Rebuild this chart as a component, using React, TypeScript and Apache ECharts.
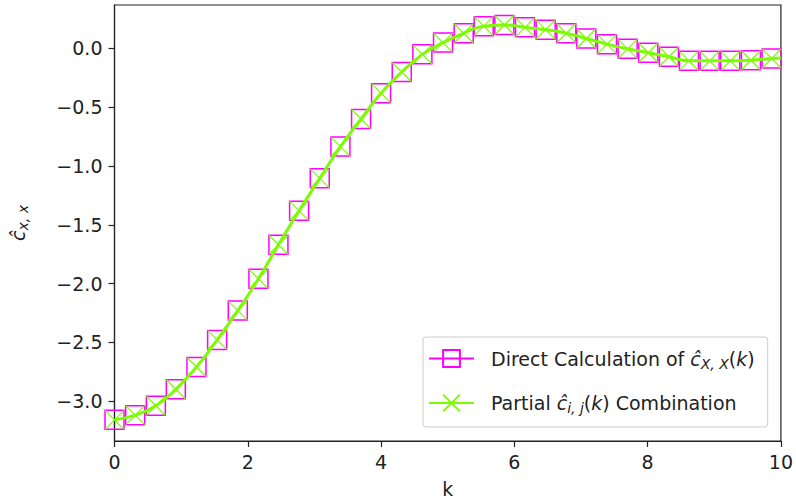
import React, { useEffect, useRef } from "react";
import * as echarts from "echarts";

// k positions of the markers (last entry is the curve's end at k = 10)
const kValues = [
  0, 0.31, 0.62, 0.92, 1.23, 1.54, 1.85, 2.16, 2.46, 2.77, 3.08, 3.39, 3.7, 4.0,
  4.31, 4.62, 4.93, 5.24, 5.54, 5.85, 6.16, 6.47, 6.78, 7.08, 7.39, 7.7, 8.01,
  8.32, 8.62, 8.93, 9.24, 9.55, 9.86, 10,
];
const directValues = [
  -3.16, -3.12, -3.04, -2.9, -2.71, -2.48, -2.23, -1.96, -1.67, -1.38, -1.105,
  -0.835, -0.6, -0.38, -0.2, -0.05, 0.05, 0.13, 0.19, 0.2, 0.18, 0.16, 0.13,
  0.085, 0.037, -0.003, -0.036, -0.07, -0.105, -0.105, -0.105, -0.1, -0.085,
  -0.08,
];
const partialValues = [
  -3.16, -3.12, -3.04, -2.9, -2.71, -2.48, -2.23, -1.96, -1.67, -1.38, -1.105,
  -0.835, -0.6, -0.38, -0.2, -0.05, 0.05, 0.13, 0.19, 0.2, 0.18, 0.16, 0.13,
  0.085, 0.037, -0.003, -0.036, -0.07, -0.105, -0.105, -0.105, -0.1, -0.085,
  -0.08,
];
const xTicks = [0, 2, 4, 6, 8, 10];
const yTicks = [-3.0, -2.5, -2.0, -1.5, -1.0, -0.5, 0.0];

const NAME_DIRECT = "Direct Calculation";
const NAME_PARTIAL = "Partial Combination";
const MAGENTA = "#ff00ff";
const GREEN = "#7cfc00";
const FONT = "DejaVu Sans";
const TXT = "#222222";
const FS = 19;

function buildData(vals: number[]) {
  return kValues.map((k, i) =>
    i === kValues.length - 1
      ? { value: [k, vals[i]], symbol: "none" }
      : { value: [k, vals[i]] }
  );
}

const richStyles = {
  n: { fontSize: FS, fontFamily: FONT, color: TXT, lineHeight: 24 },
  i: { fontSize: FS, fontFamily: FONT, fontStyle: "italic", color: TXT, lineHeight: 24 },
  s: {
    fontSize: 14,
    fontFamily: FONT,
    fontStyle: "italic",
    color: TXT,
    lineHeight: 13,
    verticalAlign: "bottom",
  },
};

export default function App() {
  const ref = useRef<HTMLDivElement>(null);
  useEffect(() => {
    if (!ref.current) return;
    const chart = echarts.init(ref.current, null, { renderer: "svg" });
    const fmt = (v: number) => v.toFixed(1).replace("-", "\u2212");
    chart.setOption({
      animation: false,
      backgroundColor: "#ffffff",
      grid: {
        left: 113,
        right: 12,
        top: 5,
        bottom: 63,
        show: true,
        borderColor: "#222",
        borderWidth: 1.2,
        backgroundColor: "transparent",
      },
      xAxis: {
        type: "value",
        min: 0,
        max: 10,
        interval: 2,
        name: "k",
        nameLocation: "middle",
        nameGap: 38,
        nameTextStyle: { fontSize: FS, fontFamily: FONT, color: TXT },
        axisLine: { show: true, onZero: false, lineStyle: { color: "#222", width: 1.2 } },
        axisTick: { show: true, inside: false, length: 6, lineStyle: { color: "#222", width: 1.2 } },
        axisLabel: {
          margin: 11,
          fontSize: FS,
          fontFamily: FONT,
          color: TXT,
          customValues: xTicks,
          formatter: (v: number) => String(v),
        },
        splitLine: { show: false },
      },
      yAxis: {
        type: "value",
        min: -3.34,
        max: 0.37,
        name: "{i|ĉ}{s|x, x}",
        nameLocation: "middle",
        nameRotate: 90,
        nameGap: 85,
        nameTextStyle: { rich: richStyles },
        axisLine: { show: true, onZero: false, lineStyle: { color: "#222", width: 1.2 } },
        axisTick: {
          show: true,
          inside: false,
          length: 6,
          customValues: yTicks,
          lineStyle: { color: "#222", width: 1.2 },
        },
        axisLabel: {
          margin: 12,
          fontSize: FS,
          fontFamily: FONT,
          color: TXT,
          customValues: yTicks,
          formatter: (v: number) => fmt(v),
        },
        splitLine: { show: false },
      },
      legend: {
        orient: "vertical",
        left: 423,
        top: 337,
        padding: [12, 13, 12, 5],
        itemGap: 23,
        itemWidth: 45,
        itemHeight: 21,
        backgroundColor: "rgba(255,255,255,0.8)",
        borderColor: "#cccccc",
        borderWidth: 1,
        borderRadius: 3,
        data: [NAME_DIRECT, NAME_PARTIAL],
        formatter: (name: string) =>
          name === NAME_DIRECT
            ? "{n|Direct Calculation of }{i|ĉ}{s|X, X}{n|(}{i|k}{n|)}"
            : "{n|Partial }{i|ĉ}{s|i, j}{n|(}{i|k}{n|) Combination}",
        textStyle: { padding: [0, 0, 0, 12], rich: richStyles },
      },
      series: [
        {
          name: NAME_DIRECT,
          type: "line",
          smooth: true,
          data: buildData(directValues),
          symbol: "rect",
          symbolSize: 19,
          lineStyle: { color: MAGENTA, width: 1.5 },
          itemStyle: { color: "rgba(0,0,0,0)", borderColor: MAGENTA, borderWidth: 1.5 },
          z: 2,
        },
        {
          name: NAME_PARTIAL,
          type: "line",
          smooth: true,
          data: buildData(partialValues),
          symbol: "path://M0,0L10,10M10,0L0,10",
          symbolSize: 19,
          lineStyle: { color: GREEN, width: 3 },
          itemStyle: { color: "rgba(0,0,0,0)", borderColor: GREEN, borderWidth: 1.2 },
          z: 3,
        },
      ],
    });
    return () => chart.dispose();
  }, []);
  return <div ref={ref} style={{ width: 796, height: 504, position: "absolute", left: 0, top: 0 }} />;
}
